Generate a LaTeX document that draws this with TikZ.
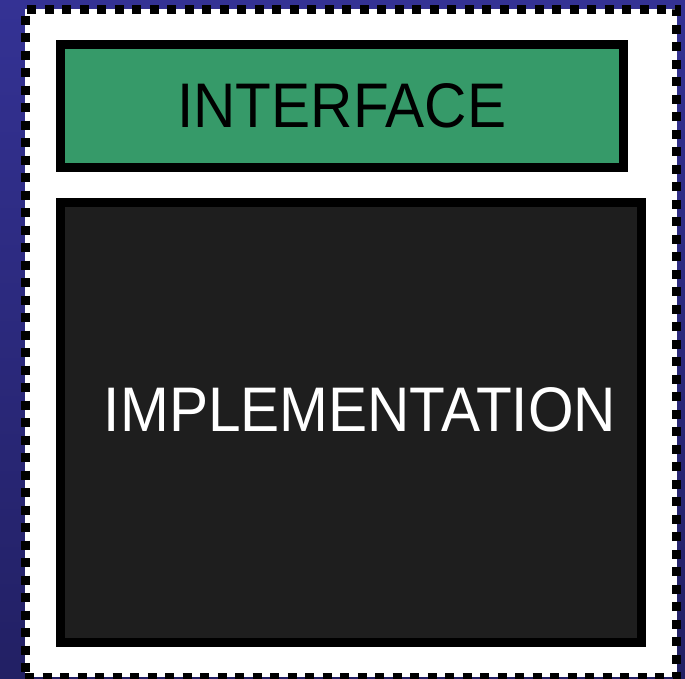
\documentclass[tikz,border=0pt]{standalone}
\usepackage{fontspec}
\setmainfont{Liberation Sans}
\definecolor{slideblue}{RGB}{52,50,148}
\definecolor{slidedeep}{RGB}{34,32,100}
\definecolor{ifacegreen}{RGB}{54,154,105}
\definecolor{impldark}{RGB}{30,30,30}
\begin{document}
\begin{tikzpicture}[x=1pt,y=-1pt,
    frame/.style={draw=black,fill=white,line width=9pt,dash pattern=on 9pt off 8.5pt,minimum width=651.5pt,minimum height=668pt,inner sep=0pt},
    iface/.style={draw=black,fill=ifacegreen,line width=9pt,minimum width=562.5pt,minimum height=122.5pt,inner sep=0pt,text=black,font=\fontsize{63}{63}\selectfont},
    impl/.style={draw=black,fill=impldark,line width=9pt,minimum width=580.5pt,minimum height=440pt,inner sep=0pt},
    impllabel/.style={inner sep=0pt,text=white,font=\fontsize{63}{63}\selectfont}
]
\shade[top color=slideblue,bottom color=slidedeep] (0,0) rectangle (685,678);
\useasboundingbox (0,0) rectangle (685,678);

\node[frame]     (box)    at (350.75,343)   {};
\node[iface]     (iface)  at (341.75,105.75) {\scalebox{0.93}[1]{INTERFACE}};
\node[impl]      (impl)   at (350.75,422.5) {};
\node[impllabel] (impltx) at (360,409.5)    {\scalebox{0.93}[1]{IMPLEMENTATION}};
\end{tikzpicture}
\end{document}
